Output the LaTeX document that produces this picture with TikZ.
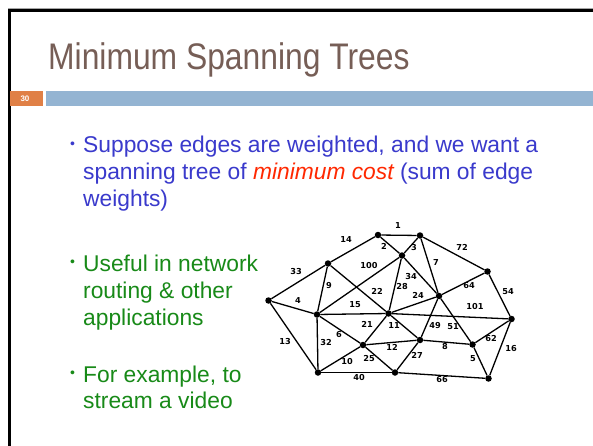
\documentclass[tikz,border=0pt]{standalone}
\usepackage{fontspec}
\setmainfont{Liberation Sans}
\newfontfamily\lblfont{DejaVu Sans}
\newfontfamily\titlefont[FakeStretch=0.86]{Liberation Sans}
\definecolor{titlec}{RGB}{118,94,86}
\definecolor{bluetxt}{RGB}{58,58,204}
\definecolor{greentxt}{RGB}{24,138,24}
\definecolor{redtxt}{RGB}{255,40,0}
\definecolor{barblue}{RGB}{148,180,210}
\definecolor{barorange}{RGB}{224,128,70}
\begin{document}
\begin{tikzpicture}[x=1pt,y=-1pt,
  vtx/.style={circle,fill=black,inner sep=0pt,minimum size=6.5pt},
  edge/.style={line width=1.3pt},
  wlbl/.style={font=\lblfont\bfseries\fontsize{8.2}{9}\selectfont,inner sep=0pt},
  txtline/.style={anchor=base west,inner sep=0pt,font=\fontsize{22.8}{26}\selectfont},
  bul/.style={anchor=center,inner sep=0pt,font=\fontsize{14}{15}\selectfont}]
\useasboundingbox[fill=white] (0,0) rectangle (593,446);
% frame
\draw[gray!70,line width=0.8pt] (8,8) -- (593,8);
\draw[black,line width=2.5pt] (9.5,446) -- (9.5,10.5) -- (593,10.5);
% title
\node[anchor=base west,inner sep=0pt,text=titlec,font=\titlefont\fontsize{37}{40}\selectfont] (title) at (48,70) {Minimum Spanning Trees};
% bars
\fill[barorange] (10,91) rectangle (43,106);
\node[text=white,font=\fontsize{8}{9}\selectfont\bfseries,inner sep=0pt] (num) at (25,98.5) {30};
\fill[barblue] (46,91) rectangle (593,106);
% bullet 1
\node[bul,text=bluetxt] (b1) at (72.5,145) {•};
\node[txtline,text=bluetxt] (t1a) at (83,153) {Suppose edges are weighted, and we want a};
\node[txtline,text=bluetxt] (t1b) at (83,180) {spanning tree of \textcolor{redtxt}{\itshape minimum cost} (sum of edge};
\node[txtline,text=bluetxt] (t1c) at (83,206.5) {weights)};
% bullet 2
\node[bul,text=greentxt] (b2) at (72.5,263) {•};
\node[txtline,text=greentxt] (t2a) at (83,271) {Useful in network};
\node[txtline,text=greentxt] (t2b) at (83,298) {routing \& other};
\node[txtline,text=greentxt] (t2c) at (83,325) {applications};
% bullet 3
\node[bul,text=greentxt] (b3) at (72.5,374) {•};
\node[txtline,text=greentxt] (t3a) at (83,382) {For example, to};
\node[txtline,text=greentxt] (t3b) at (83,408) {stream a video};
% vertices
\node[vtx] (A) at (268.5,300.5) {};
\node[vtx] (B) at (328,263.5) {};
\node[vtx] (C) at (378,235) {};
\node[vtx] (D) at (420,235.5) {};
\node[vtx] (E) at (402,255.5) {};
\node[vtx] (F) at (439,296) {};
\node[vtx] (G) at (487.5,271.5) {};
\node[vtx] (H) at (317,314.5) {};
\node[vtx] (I) at (388.5,313.5) {};
\node[vtx] (J) at (511.5,319) {};
\node[vtx] (K) at (363,345) {};
\node[vtx] (L) at (420,340) {};
\node[vtx] (M) at (472.5,344.5) {};
\node[vtx] (N) at (318,372.5) {};
\node[vtx] (O) at (395,372.5) {};
\node[vtx] (P) at (488.5,378.5) {};
% edges
\draw[edge] (A) -- (B);
\draw[edge] (A) -- (H);
\draw[edge] (A) -- (N);
\draw[edge] (B) -- (C);
\draw[edge] (B) -- (H);
\draw[edge] (B) -- (I);
\draw[edge] (C) -- (D);
\draw[edge] (C) -- (E);
\draw[edge] (D) -- (E);
\draw[edge] (D) -- (F);
\draw[edge] (D) -- (G);
\draw[edge] (E) -- (F);
\draw[edge] (E) -- (I);
\draw[edge] (E) -- (H);
\draw[edge] (F) -- (I);
\draw[edge] (F) -- (G);
\draw[edge] (F) -- (L);
\draw[edge] (F) -- (M);
\draw[edge] (G) -- (J);
\draw[edge] (H) -- (I);
\draw[edge] (H) -- (K);
\draw[edge] (H) -- (N);
\draw[edge] (I) -- (J);
\draw[edge] (I) -- (K);
\draw[edge] (I) -- (L);
\draw[edge] (K) -- (L);
\draw[edge] (K) -- (N);
\draw[edge] (K) -- (O);
\draw[edge] (L) -- (M);
\draw[edge] (L) -- (O);
\draw[edge] (M) -- (J);
\draw[edge] (M) -- (P);
\draw[edge] (J) -- (P);
\draw[edge] (N) -- (O);
\draw[edge] (O) -- (P);
% weights
\node[wlbl] (w1) at (398,226) {1};
\node[wlbl] (w2) at (384,246) {2};
\node[wlbl] (w3) at (414,248) {3};
\node[wlbl] (w14) at (346,240) {14};
\node[wlbl] (w72) at (462,247) {72};
\node[wlbl] (w33) at (296,272) {33};
\node[wlbl] (w100) at (369,266) {100};
\node[wlbl] (w34) at (411,277) {34};
\node[wlbl] (w7) at (436,263) {7};
\node[wlbl] (w64) at (469,286) {64};
\node[wlbl] (w54) at (508,292) {54};
\node[wlbl] (w9) at (329,286) {9};
\node[wlbl] (w22) at (377,291) {22};
\node[wlbl] (w28) at (402,287) {28};
\node[wlbl] (w24) at (418,295) {24};
\node[wlbl] (w4) at (298,301) {4};
\node[wlbl] (w15) at (355,305) {15};
\node[wlbl] (w101) at (475,307) {101};
\node[wlbl] (w21) at (367,324) {21};
\node[wlbl] (w11) at (394,326) {11};
\node[wlbl] (w49) at (435,326) {49};
\node[wlbl] (w51) at (453,327) {51};
\node[wlbl] (w13) at (285,342) {13};
\node[wlbl] (w32) at (326,343) {32};
\node[wlbl] (w6) at (339,335) {6};
\node[wlbl] (w12) at (392,347) {12};
\node[wlbl] (w62) at (491,339) {62};
\node[wlbl] (w8) at (445,347) {8};
\node[wlbl] (w16) at (511,349) {16};
\node[wlbl] (w10) at (347,362) {10};
\node[wlbl] (w25) at (369,359) {25};
\node[wlbl] (w27) at (417,355) {27};
\node[wlbl] (w5) at (473,359) {5};
\node[wlbl] (w40) at (359,378) {40};
\node[wlbl] (w66) at (442,380) {66};
\end{tikzpicture}
\end{document}
